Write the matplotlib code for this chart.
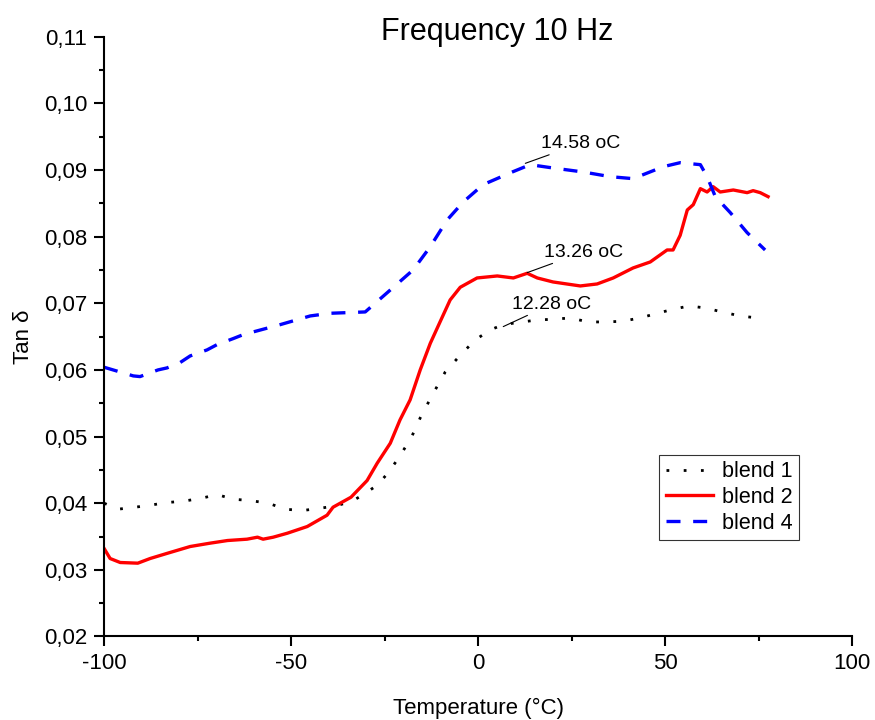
import matplotlib
matplotlib.use("Agg")
import matplotlib.pyplot as plt
from matplotlib.ticker import MultipleLocator, FuncFormatter

plt.rcParams['font.family'] = ['Liberation Sans', 'DejaVu Sans']
plt.rcParams['axes.unicode_minus'] = False

# blend 1 (dotted)
t1 = [-100, -96.3, -91.7, -87.7, -83.2, -78.9, -74.3, -69.8, -65.5, -61, -56.1, -51.6,
      -47, -42.8, -38, -33.7, -30.7, -27, -24, -21.4, -18, -15.5, -12.3, -8.8, -4.8,
      -0.8, 3.2, 6.7, 11.8, 15.8, 20, 24.6, 29.4, 34, 38.5, 43.3, 47.9, 52.1, 56.4,
      60.7, 65.2, 70, 74.6, 76.5]
tan1 = [0.0400, 0.0391, 0.0394, 0.0397, 0.0401, 0.0403, 0.0407, 0.0413, 0.0406, 0.0404,
        0.0400, 0.0391, 0.0389, 0.0392, 0.0396, 0.0403, 0.0413, 0.0427, 0.0446, 0.0467,
        0.0497, 0.0528, 0.0562, 0.0597, 0.0622, 0.0645, 0.0660, 0.0668, 0.0672, 0.0675,
        0.0676, 0.0678, 0.0672, 0.0672, 0.0673, 0.0678, 0.0685, 0.0691, 0.0696, 0.0693,
        0.0687, 0.0681, 0.0678, 0.0677]

# blend 2 (solid red)
t2 = [-100, -98.4, -95.7, -91, -87.7, -83, -77, -71.7, -67, -61.8, -59, -57.5, -54.8,
      -51, -45.7, -40.4, -38.8, -34, -29.7, -27, -23.5, -20.9, -18.2, -15.5, -12.8,
      -10.2, -7.5, -4.8, -0.3, 5.1, 9.4, 13.1, 15.8, 20, 27.3, 31.8, 36.1, 41.4, 46,
      50.5, 52.1, 54, 55.9, 57.5, 59.4, 61.2, 62.8, 64.7, 68.2, 71.9, 73.5, 75.4, 77.5]
tan2 = [0.0332, 0.0317, 0.0311, 0.0310, 0.0317, 0.0325, 0.0335, 0.0340, 0.0344, 0.0346,
        0.0349, 0.0346, 0.0349, 0.0355, 0.0365, 0.0382, 0.0394, 0.0409, 0.0434, 0.0460,
        0.0490, 0.0525, 0.0555, 0.0600, 0.0640, 0.0672, 0.0705, 0.0724, 0.0738, 0.0741,
        0.0738, 0.0745, 0.0738, 0.0732, 0.0726, 0.0729, 0.0738, 0.0753, 0.0762, 0.0780,
        0.0780, 0.0802, 0.0840, 0.0848, 0.0872, 0.0867, 0.0875, 0.0867, 0.0870, 0.0866,
        0.0869, 0.0866, 0.0860]

# blend 4 (dashed blue)
t4 = [-100, -97.6, -92.2, -90.4, -85.6, -83.2, -79.7, -77, -72.5, -69.8, -65.5, -62.8,
      -52.9, -44.9, -39.6, -30.2, -24.3, -17.4, -12.8, -8.3, -4, 1.3, 9.1, 13.9, 20,
      28.1, 35.3, 41.4, 49.5, 54, 59.4, 61.2, 63.4, 67.4, 71.9, 76.7]
tan4 = [0.0604, 0.0600, 0.0591, 0.0590, 0.0600, 0.0603, 0.0611, 0.0621, 0.0630, 0.0638,
        0.0647, 0.0653, 0.0668, 0.0681, 0.0685, 0.0687, 0.0716, 0.0750, 0.0785, 0.0825,
        0.0852, 0.0878, 0.0897, 0.0908, 0.0903, 0.0897, 0.0890, 0.0887, 0.0905, 0.0911,
        0.0908, 0.0890, 0.0860, 0.0836, 0.0806, 0.0780]

# peak labels: (text, point, text position)
peaks = [("14.58 oC", (12.6, 0.0910), (16.8, 0.0933)),
         ("13.26 oC", (13.1, 0.0746), (17.6, 0.0770)),
         ("12.28 oC", (6.7, 0.0665), (9.1, 0.0692))]

fig = plt.figure(figsize=(8.75, 7.2), dpi=100)
ax = fig.add_axes([0.119, 0.116, 0.855, 0.833])

ax.plot(t1, tan1, color='black', lw=2.0, linestyle=(0, (1, 5.2)), label='blend 1')
ax.plot(t2, tan2, color='#ff0000', lw=2.4, label='blend 2')
ax.plot(t4, tan4, color='#0000ff', lw=2.4, linestyle=(0, (4.2, 3.8)), label='blend 4')

for txt, xy, xyt in peaks:
    ax.annotate(txt, xy=xy, xytext=xyt, fontsize=14,
                arrowprops=dict(arrowstyle='-', color='black', lw=0.8,
                                shrinkA=0, shrinkB=0))

ax.set_xlim(-100, 100)
ax.set_ylim(0.02, 0.11)
ax.xaxis.set_major_locator(MultipleLocator(50))
ax.xaxis.set_minor_locator(MultipleLocator(25))
ax.yaxis.set_major_locator(MultipleLocator(0.01))
ax.yaxis.set_minor_locator(MultipleLocator(0.005))
ax.yaxis.set_major_formatter(FuncFormatter(lambda v, p: f"{v:.2f}".replace('.', ',')))

for s in ['top', 'right']:
    ax.spines[s].set_visible(False)
for s in ['left', 'bottom']:
    ax.spines[s].set_linewidth(1.5)
ax.tick_params(which='major', direction='out', length=7, width=1.5, labelsize=16, pad=5)
ax.tick_params(which='minor', direction='out', length=3.5, width=1.5)

ax.set_xlabel("Temperature (°C)", fontsize=16, labelpad=17)
ax.set_ylabel("Tan δ", fontsize=16, labelpad=7)
fig.text(0.568, 0.956, "Frequency 10 Hz", fontsize=22, ha='center', va='center')

leg = ax.legend(loc='upper left', bbox_to_anchor=(0.742, 0.303), borderaxespad=0,
                fontsize=15.5, frameon=True, fancybox=False, handlelength=2.2,
                handletextpad=0.4, labelspacing=0.22, borderpad=0.3)
leg.get_frame().set_edgecolor('black')
leg.get_frame().set_linewidth(0.8)

fig.savefig("out.png", dpi=100)
